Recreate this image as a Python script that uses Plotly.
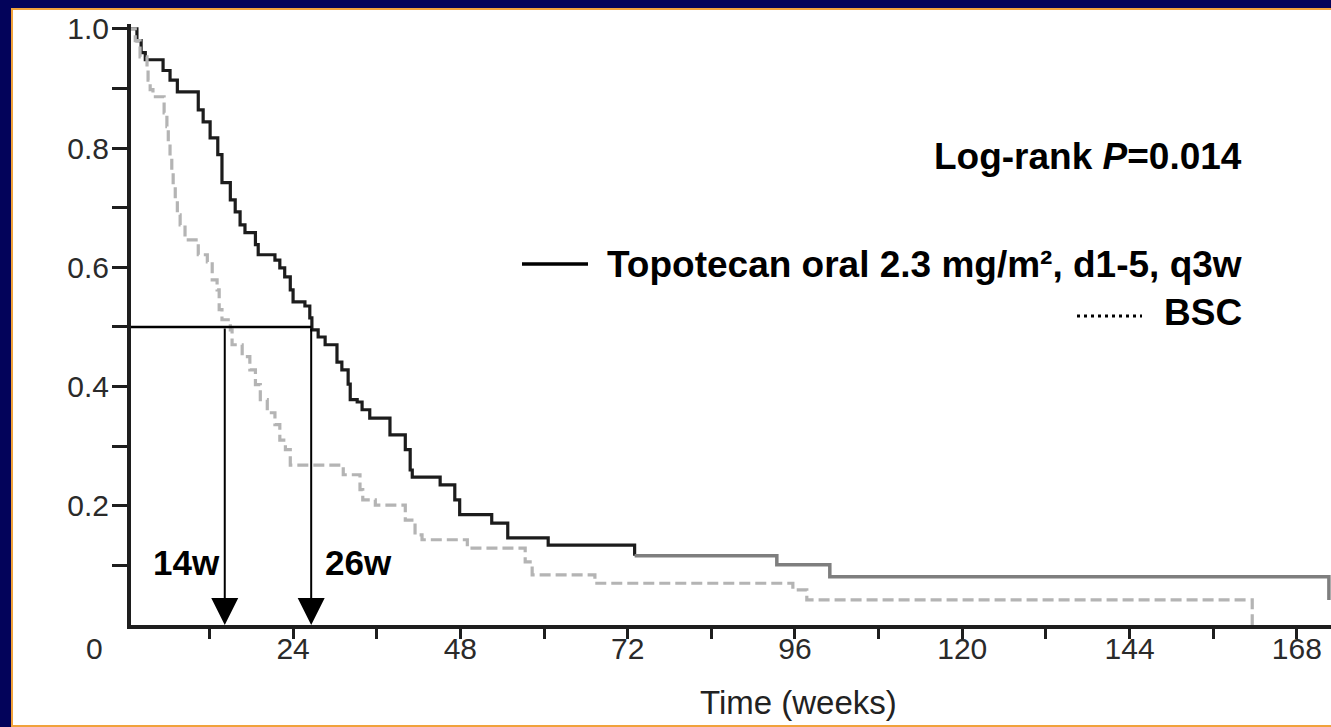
import plotly.graph_objects as go

# ---------------- data ----------------
topo_weeks = [0, 1.6, 2.2, 2.8, 5.35, 6.35, 7.4, 10.4, 11.1, 12.1,
              13.2, 13.8, 15.0, 15.7, 16.4, 17.1, 18.6, 19.0, 21.4, 22.1,
              22.8, 23.6, 24.0, 25.7, 26.4, 26.7, 27.6, 28.6, 30.3, 31.0,
              31.9, 32.2, 33.2, 33.9, 35.0, 37.9, 40.1, 40.8, 41.1, 45.1,
              47.2, 47.9, 52.5, 54.8, 60.6, 73.0, 93.4, 101.0, 172.6]
topo_surv = [1.0, 0.98, 0.96, 0.948, 0.93, 0.914, 0.894, 0.864, 0.844, 0.817,
             0.789, 0.742, 0.713, 0.693, 0.671, 0.658, 0.638, 0.621, 0.612, 0.599,
             0.584, 0.562, 0.542, 0.535, 0.515, 0.495, 0.483, 0.470, 0.441, 0.428,
             0.404, 0.378, 0.374, 0.361, 0.347, 0.319, 0.294, 0.260, 0.248, 0.235,
             0.210, 0.185, 0.171, 0.146, 0.134, 0.116, 0.101, 0.081, 0.042]

bsc_weeks = [0, 1.36, 2.05, 3.05, 3.2, 3.5, 3.9, 5.5, 5.9, 6.1,
             6.35, 6.6, 6.8, 7.1, 7.4, 7.8, 8.5, 10.4, 11.7, 12.4,
             13.1, 13.4, 13.8, 15.0, 15.25, 16.7, 17.8, 18.6, 19.3, 20.3,
             21.4, 22.1, 22.9, 23.6, 31.2, 33.6, 34.0, 35.8, 40.1, 41.5,
             42.5, 49.0, 57.3, 58.3, 67.3, 95.7, 97.7, 161.6]
bsc_surv = [1.0, 0.98, 0.953, 0.936, 0.914, 0.898, 0.886, 0.859, 0.836, 0.814,
            0.785, 0.763, 0.735, 0.713, 0.688, 0.671, 0.646, 0.621, 0.609, 0.579,
            0.562, 0.529, 0.512, 0.495, 0.470, 0.450, 0.428, 0.403, 0.378, 0.356,
            0.336, 0.310, 0.294, 0.268, 0.252, 0.227, 0.210, 0.201, 0.176, 0.151,
            0.143, 0.129, 0.106, 0.084, 0.070, 0.059, 0.042, 0.0]

median_weeks = [14.2, 26.6]
median_labels = ["14w", "26w"]
median_level = 0.5

x_tickvals = [12, 24, 36, 48, 60, 72, 84, 96, 108, 120, 132, 144, 156, 168]
x_ticktext = ["", "24", "", "48", "", "72", "", "96", "", "120", "", "144", "", "168"]
y_tickvals = [0.1, 0.2, 0.3, 0.4, 0.5, 0.6, 0.7, 0.8, 0.9, 1.0]
y_ticktext = ["", "0.2", "", "0.4", "", "0.6", "", "0.8", "", "1.0"]

pvalue_text = "<b>Log-rank <i>P</i>=0.014</b>"
topo_name = "<b>Topotecan oral 2.3 mg/m², d1-5, q3w</b>"
bsc_name = "<b>BSC</b>"
x_title = "Time (weeks)"

# ---------------- layout helpers ----------------
W, H = 1331, 727
L, R, T, B = 131, 0, 24, 102
X_RANGE = [0.75, 172.9]
Y_RANGE = [0, 1.008]


def xp(px):
    return (px - L) / (W - L - R)


def yp(py):
    return (H - B - py) / (H - T - B)


FONT = "Liberation Sans, Arial, sans-serif"
SPLIT = 45

fig = go.Figure()
fig.add_trace(go.Scatter(x=topo_weeks[:SPLIT + 1], y=topo_surv[:SPLIT + 1], mode="lines",
                         line=dict(shape="hv", color="#1c1c1c", width=3.2),
                         showlegend=False, hoverinfo="skip"))
fig.add_trace(go.Scatter(x=topo_weeks[SPLIT:], y=topo_surv[SPLIT:], mode="lines",
                         line=dict(shape="hv", color="#7e7e7e", width=3.5),
                         showlegend=False, hoverinfo="skip"))
fig.add_trace(go.Scatter(x=bsc_weeks, y=bsc_surv, mode="lines",
                         line=dict(shape="hv", color="#b4b4b4", width=3.2, dash="11px,5px"),
                         showlegend=False, hoverinfo="skip"))

shapes = [
    # white slide panel with orange edge
    dict(type="rect", xref="paper", yref="paper", layer="below",
         x0=xp(12), x1=xp(1345), y0=yp(726), y1=yp(9),
         fillcolor="white", line=dict(color="#F0A23C", width=2)),
    # median guide line
    dict(type="line", xref="x", yref="y", x0=X_RANGE[0], x1=median_weeks[1],
         y0=median_level, y1=median_level, line=dict(color="black", width=2.5)),
    # legend samples
    dict(type="line", xref="paper", yref="paper", x0=xp(522), x1=xp(588),
         y0=yp(264), y1=yp(264), line=dict(color="black", width=3.5)),
    dict(type="line", xref="paper", yref="paper", x0=xp(1077), x1=xp(1142),
         y0=yp(316), y1=yp(316), line=dict(color="black", width=3, dash="3px,4px")),
]

annotations = []
for m in median_weeks:
    annotations.append(dict(x=m, y=0, xref="x", yref="y", ax=m, ay=median_level,
                            axref="x", ayref="y", text="", showarrow=True,
                            arrowhead=2, arrowsize=2.7, arrowwidth=2, arrowcolor="black"))

annotations += [
    dict(x=xp(222), y=yp(562), xref="paper", yref="paper", text="<b>%s</b>" % median_labels[0],
         showarrow=False, xanchor="right", yanchor="middle", font=dict(family=FONT, size=35, color="black")),
    dict(x=xp(323), y=yp(562), xref="paper", yref="paper", text="<b>%s</b>" % median_labels[1],
         showarrow=False, xanchor="left", yanchor="middle", font=dict(family=FONT, size=35, color="black")),
    dict(x=xp(1244), y=yp(156), xref="paper", yref="paper", text=pvalue_text,
         showarrow=False, xanchor="right", yanchor="middle", font=dict(family=FONT, size=37, color="black")),
    dict(x=xp(1244), y=yp(264), xref="paper", yref="paper", text=topo_name,
         showarrow=False, xanchor="right", yanchor="middle", font=dict(family=FONT, size=37, color="black")),
    dict(x=xp(1244), y=yp(312), xref="paper", yref="paper", text=bsc_name,
         showarrow=False, xanchor="right", yanchor="middle", font=dict(family=FONT, size=37, color="black")),
    dict(x=xp(94), y=yp(648), xref="paper", yref="paper", text="0",
         showarrow=False, xanchor="center", yanchor="middle", font=dict(family=FONT, size=30, color="#2a2a2a")),
    dict(x=xp(798), y=yp(703), xref="paper", yref="paper", text=x_title,
         showarrow=False, xanchor="center", yanchor="middle", font=dict(family=FONT, size=33, color="#222222")),
]

axis_common = dict(showline=True, linecolor="#1e1e1e", linewidth=4, ticks="outside",
                   tickcolor="#1e1e1e", tickwidth=3, showgrid=False, zeroline=False,
                   fixedrange=True, tickfont=dict(family=FONT, size=30, color="#2a2a2a"))

fig.update_layout(
    width=W, height=H,
    margin=dict(l=L, r=R, t=T, b=B, pad=0),
    paper_bgcolor="#03035A",
    plot_bgcolor="white",
    xaxis=dict(range=X_RANGE, tickmode="array", tickvals=x_tickvals, ticktext=x_ticktext,
               ticklen=10, ticklabelstandoff=-16, **axis_common),
    yaxis=dict(range=Y_RANGE, tickmode="array", tickvals=y_tickvals, ticktext=y_ticktext,
               ticklen=15, ticklabelstandoff=-3, **axis_common),
    shapes=shapes,
    annotations=annotations,
    showlegend=False,
)

fig.write_html("out.html")
